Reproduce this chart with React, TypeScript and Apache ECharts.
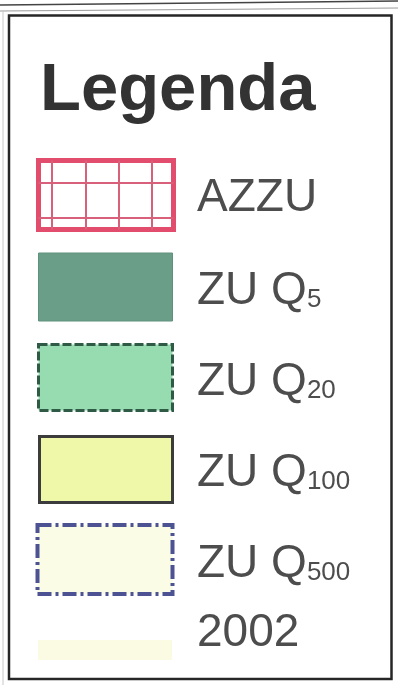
import React, { useEffect, useRef } from "react";
import * as echarts from "echarts";

const TITLE = "Legenda";
const LABELS = ["AZZU", "ZU Q", "ZU Q", "ZU Q", "ZU Q", "2002"];
const SUBSCRIPTS = ["", "5", "20", "100", "500", ""];
const FILLS = ["#ffffff", "#6b9e89", "#97dbb1", "#eff7a8", "#fafce6", "#fafbe2"];
const BORDERS = ["#e24d6e", "#5f927c", "#2f5b46", "#3c3c3c", "#4c5292", "none"];
const DASHES: (number[] | null)[] = [null, null, [9, 3], null, [14, 4, 3, 4], null];

export default function App() {
  const ref = useRef<HTMLDivElement>(null);
  useEffect(() => {
    if (!ref.current) return;
    const chart = echarts.init(ref.current, null, { renderer: "svg" });
    const boxes = [
      { x: 38.5, y: 160.5, w: 135, h: 69, lw: 5 },
      { x: 38.5, y: 253, w: 134, h: 68, lw: 1 },
      { x: 38.5, y: 344.5, w: 134, h: 66, lw: 3 },
      { x: 39.5, y: 436.5, w: 133, h: 66, lw: 3 },
      { x: 37.5, y: 525, w: 135, h: 69, lw: 4 },
      { x: 38, y: 640, w: 134, h: 20, lw: 0 },
    ];
    const textY = [195, 288, 379, 470, 561, 630];
    const elements: any[] = [];
    elements.push({ type: "rect", shape: { x: 0, y: 0, width: 398, height: 685 }, style: { fill: "#ffffff" } });
    elements.push({ type: "line", shape: { x1: 0, y1: 5, x2: 398, y2: 1 }, style: { stroke: "#444", lineWidth: 1.5 } });
    elements.push({ type: "line", shape: { x1: 0, y1: 11, x2: 398, y2: 8 }, style: { stroke: "#9a9a9a", lineWidth: 1 } });
    elements.push({ type: "rect", shape: { x: 9, y: 15.5, width: 382.5, height: 663.5 }, style: { fill: "none", stroke: "#262626", lineWidth: 2.5 } });
    elements.push({ type: "line", shape: { x1: 3, y1: 10, x2: 3, y2: 685 }, style: { stroke: "#c8c8c8", lineWidth: 1 } });
    elements.push({
      type: "text", x: 40, y: 86,
      style: { text: TITLE, fontFamily: "Liberation Sans, Arial", fontWeight: "bold", fontSize: 67, fill: "#333333", verticalAlign: "middle" },
    });
    LABELS.forEach((lab, i) => {
      const b = boxes[i];
      elements.push({
        type: "rect",
        shape: { x: b.x, y: b.y, width: b.w, height: b.h },
        style: {
          fill: FILLS[i],
          stroke: BORDERS[i] === "none" ? null : BORDERS[i],
          lineWidth: b.lw,
          lineDash: DASHES[i] || null,
        },
      });
      if (i === 0) {
        [52, 86, 119, 152].forEach((vx) =>
          elements.push({ type: "line", shape: { x1: vx, y1: b.y, x2: vx, y2: b.y + b.h }, style: { stroke: "#d9607a", lineWidth: 2 } })
        );
        [183, 218].forEach((hy) =>
          elements.push({ type: "line", shape: { x1: b.x, y1: hy, x2: b.x + b.w, y2: hy }, style: { stroke: "#d9607a", lineWidth: 2 } })
        );
      }
      elements.push({
        type: "text", x: 197, y: textY[i],
        style: {
          text: SUBSCRIPTS[i] ? `{m|${lab}}{s|${SUBSCRIPTS[i]}}` : `{m|${lab}}`,
          fontFamily: "Liberation Sans, Arial",
          verticalAlign: "middle",
          rich: {
            m: { fontSize: 46, fill: "#4d4d4d", fontFamily: "Liberation Sans, Arial", lineHeight: 46, verticalAlign: "bottom" },
            s: { fontSize: 26, fill: "#4d4d4d", fontFamily: "Liberation Sans, Arial", lineHeight: 26, verticalAlign: "bottom", padding: [0, 0, 0, 0] },
          },
        },
      });
    });
    chart.setOption({ animation: false, graphic: { elements } });
    return () => chart.dispose();
  }, []);
  return <div ref={ref} style={{ position: "fixed", left: 0, top: 0, width: 398, height: 685 }} />;
}
